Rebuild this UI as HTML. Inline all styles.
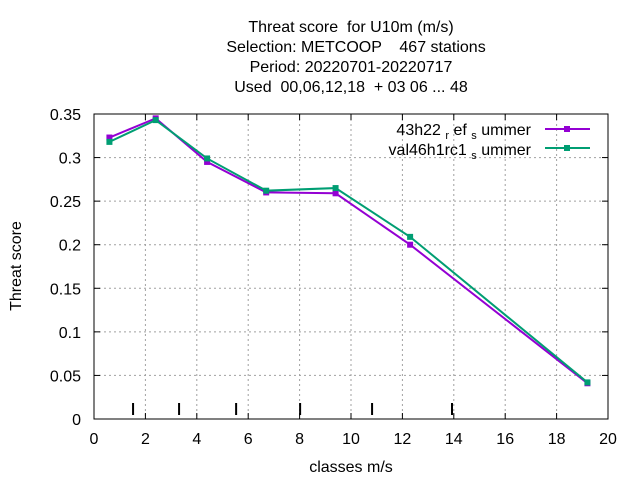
<!DOCTYPE html>
<html><head><meta charset="utf-8"><style>
body{margin:0;background:#fff}
svg{font-family:"Liberation Sans",sans-serif;font-size:16px}
text{white-space:pre}
</style></head><body>
<svg id="chart" width="640" height="480">
<g text-anchor="middle" font-size="16">
<text x="351" y="32">Threat score  for U10m (m/s)</text>
<text x="356" y="52">Selection: METCOOP    467 stations</text>
<text x="351" y="72">Period: 20220701-20220717</text>
<text x="351" y="92">Used  00,06,12,18  + 03 06 ... 48</text>
</g>
<g id="grid"></g>
<g id="axes"></g>
<g id="series"></g>
<text x="351" y="472" text-anchor="middle">classes m/s</text>
<text transform="translate(21,266) rotate(-90)" text-anchor="middle">Threat score</text>
<g>
<text x="531" y="135" text-anchor="end">43h22 <tspan font-size="11" dy="4">r</tspan><tspan dy="-4"> ef </tspan><tspan font-size="11" dy="4">s</tspan><tspan dy="-4"> ummer</tspan></text>
<line x1="545" y1="129" x2="590" y2="129" stroke="#9400d3" stroke-width="2"/>
<rect x="564" y="126" width="6" height="6" fill="#9400d3"/>
<text x="531" y="155" text-anchor="end">val46h1rc1 <tspan font-size="11" dy="4">s</tspan><tspan dy="-4"> ummer</tspan></text>
<line x1="545" y1="148" x2="590" y2="148" stroke="#009e73" stroke-width="2"/>
<rect x="564" y="145" width="6" height="6" fill="#009e73"/>
</g>
</svg>
<script>
const xs=[0.6,2.4,4.4,6.7,9.4,12.3,19.2];
const ref=[0.323,0.345,0.295,0.260,0.259,0.200,0.041];
const val=[0.318,0.343,0.299,0.262,0.265,0.209,0.042];
const classTicks=[1.52,3.31,5.53,8.02,10.82,13.93];
const xTicks=[0,2,4,6,8,10,12,14,16,18,20];
const yTicks=[0,0.05,0.1,0.15,0.2,0.25,0.3,0.35];
const X0=94,X1=608,Y0=419,Y1=114;
const xs_=v=>X0+(X1-X0)*v/20, ys_=v=>Y0-(Y0-Y1)*v/0.35;
const NS="http://www.w3.org/2000/svg";
function mk(p,t,a){const e=document.createElementNS(NS,t);for(const k in a)e.setAttribute(k,a[k]);p.appendChild(e);return e;}
const grid=document.getElementById('grid'),axes=document.getElementById('axes'),ser=document.getElementById('series');
xTicks.forEach(v=>{const x=xs_(v);
 if(v>0&&v<20){const l=mk(grid,'line',{x1:x,x2:x,y1:Y1,y2:Y0,stroke:'#a0a0a0','stroke-dasharray':'2,3','stroke-width':1});
 
 }
 mk(axes,'line',{x1:x,x2:x,y1:Y0,y2:Y0-6,stroke:'#000'});mk(axes,'line',{x1:x,x2:x,y1:Y1,y2:Y1+6,stroke:'#000'});
 const t=mk(axes,'text',{x:x,y:Y0+25,'text-anchor':'middle'});t.textContent=v;
 
 });
yTicks.forEach(v=>{const y=ys_(v);
 if(v>0&&v<0.35){const l=mk(grid,'line',{x1:X0,x2:X1,y1:y,y2:y,stroke:'#a0a0a0','stroke-dasharray':'2,3','stroke-width':1});
 
 }
 mk(axes,'line',{x1:X0,x2:X0+6,y1:y,y2:y,stroke:'#000'});mk(axes,'line',{x1:X1,x2:X1-6,y1:y,y2:y,stroke:'#000'});
 const t=mk(axes,'text',{x:X0-13,y:y+6,'text-anchor':'end'});t.textContent=v;
 
 });
mk(axes,'rect',{x:X0,y:Y1,width:X1-X0,height:Y0-Y1,fill:'none',stroke:'#000'});
classTicks.forEach(v=>{const l=mk(axes,'line',{x1:xs_(v),x2:xs_(v),y1:403,y2:415,stroke:'#000','stroke-width':2});
 
 });
function draw(data,col,name){
 const pl=mk(ser,'polyline',{points:xs.map((x,i)=>xs_(x)+','+ys_(data[i])).join(' '),fill:'none',stroke:col,'stroke-width':2});
 
 
 xs.forEach((x,i)=>{const r=mk(ser,'rect',{x:xs_(x)-3,y:ys_(data[i])-3,width:6,height:6,fill:col});
 
 });
}
draw(ref,'#9400d3','ref-summer');
draw(val,'#009e73','val-summer');
</script>
</body></html>
